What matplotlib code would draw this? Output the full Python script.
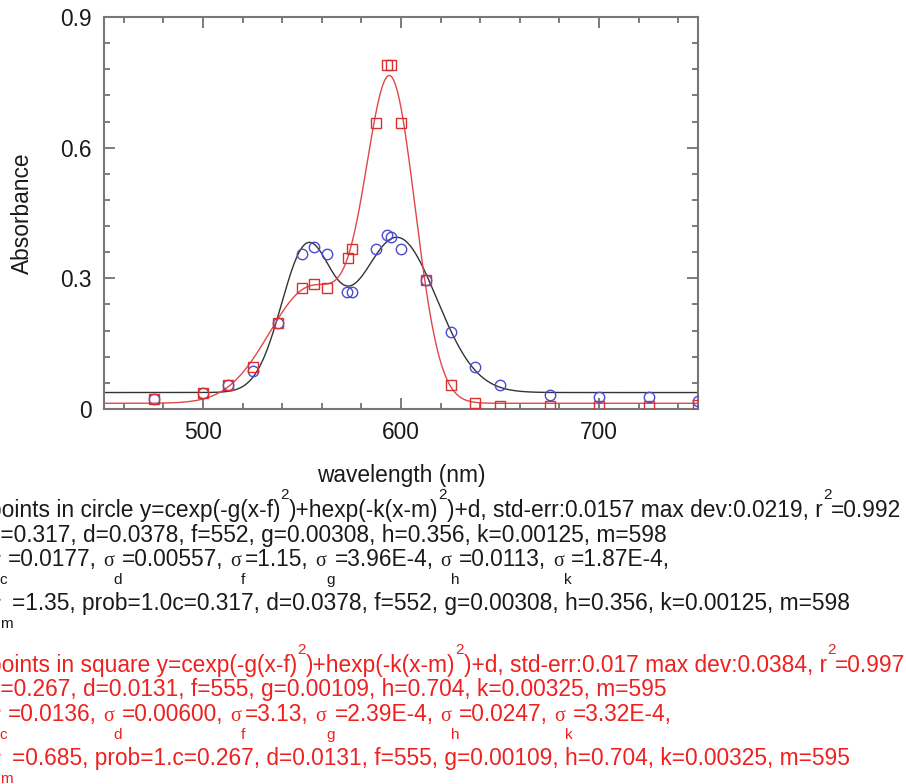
import numpy as np
import matplotlib.pyplot as plt
from matplotlib.ticker import MultipleLocator

# data points
circ_x = [475, 500, 512.5, 525, 538, 550, 556, 562.5, 572.5, 575, 587.5, 593, 595, 600, 612.5, 625, 637.5, 650, 675, 700, 725, 750]
circ_y = [0.023, 0.036, 0.056, 0.087, 0.197, 0.356, 0.371, 0.356, 0.268, 0.268, 0.368, 0.400, 0.396, 0.368, 0.296, 0.176, 0.096, 0.056, 0.033, 0.028, 0.028, 0.019]
sq_x = [475, 500, 512.5, 525, 538, 550, 556, 562.5, 573, 575, 587.5, 593, 595, 600, 612.5, 625, 637.5, 650, 675, 700, 725, 750]
sq_y = [0.023, 0.036, 0.056, 0.096, 0.197, 0.277, 0.286, 0.277, 0.347, 0.368, 0.657, 0.789, 0.789, 0.657, 0.296, 0.056, 0.014, 0.008, 0.008, 0.006, 0.006, 0.010]

# fit parameters printed under the chart: c, d, f, g, h, k, m
circ_fit = [0.317, 0.0378, 552, 0.00308, 0.356, 0.00125, 598]
sq_fit = [0.267, 0.0131, 555, 0.00109, 0.704, 0.00325, 595]

x_ticks = [500, 600, 700]
y_ticks = [0, 0.3, 0.6, 0.9]
y_ticklabels = ['0', '0.3', '0.6', '0.9']


def model(x, p):
    c, d, f, g, h, k, m = p
    return c*np.exp(-g*(x-f)**2) + h*np.exp(-k*(x-m)**2) + d


W, H = 906, 784
plt.rcParams['font.family'] = ['Liberation Sans', 'DejaVu Sans']
fig = plt.figure(figsize=(W/100, H/100), dpi=100)
renderer = fig.canvas.get_renderer()

ax = fig.add_axes([104/W, 1-409/H, 594/W, 392/H])
xx = np.linspace(450, 750, 800)
ax.plot(xx, model(xx, circ_fit), color='#333333', lw=1.0, zorder=2)
ax.plot(xx, model(xx, sq_fit), color='#e04848', lw=1.0, zorder=2)
ax.plot(circ_x, circ_y, 'o', ms=7.5, mfc='none', mec='#4b4bd0', mew=1.0, zorder=3)
ax.plot(sq_x, sq_y, 's', ms=7, mfc='none', mec='#d83030', mew=1.0, zorder=3)

ax.set_xlim(450, 750)
ax.set_ylim(0, 0.9)
ax.set_xticks(x_ticks)
ax.set_yticks(y_ticks)
ax.set_yticklabels(y_ticklabels)
ax.xaxis.set_minor_locator(MultipleLocator(20))
ax.yaxis.set_minor_locator(MultipleLocator(0.06))
ax.tick_params(which='both', direction='in', top=True, right=True, color='#666666', width=1.2, labelsize=16.4, labelcolor='#1a1a1a')
ax.tick_params(which='major', length=8, pad=9)
ax.tick_params(which='minor', length=4.5)
for sp in ax.spines.values():
    sp.set_color('#777777')
    sp.set_linewidth(1.5)
ax.set_xlabel('wavelength (nm)', fontsize=16.4, labelpad=14, color='#1a1a1a')
ax.set_ylabel('Absorbance', fontsize=16.4, labelpad=19, color='#1a1a1a')

# fit report lines, laid out run by run
size_n, size_s, size_sig = 16.4, 11, 14.5
space_w = None


def draw_line(x, base, runs, color):
    for kind, s in runs:
        if kind == 'gap':
            x += space_w
            continue
        if kind == 'n':
            t = fig.text(x/W, 1-base/H, s, fontsize=size_n, color=color, va='baseline')
        elif kind == 'sig':
            t = fig.text(x/W, 1-base/H, s, fontsize=size_sig, color=color, va='baseline', family='Liberation Serif')
        elif kind == 'sup':
            t = fig.text(x/W, 1-(base-18)/H, s, fontsize=size_s, color=color, va='baseline')
        else:
            t = fig.text(x/W, 1-(base+18)/H, s, fontsize=size_s, color=color, va='baseline')
        x += t.get_window_extent(renderer).width


a = fig.text(0, 0, 'x x', fontsize=size_n)
b = fig.text(0, 0, 'xx', fontsize=size_n)
space_w = a.get_window_extent(renderer).width - b.get_window_extent(renderer).width
a.remove()
b.remove()


def head(shape, err, dev, r2):
    return [('n', 'points in ' + shape + ' y=cexp(-g(x-f)'), ('sup', '2'), ('n', ')+hexp(-k(x-m)'), ('sup', '2'),
            ('n', ')+d, std-err:' + err + ' max dev:' + dev + ', r'), ('sup', '2'), ('n', '=' + r2)]


def sigmas(names, vals):
    runs = []
    for i, (nm, v) in enumerate(zip(names, vals)):
        if i:
            runs.append(('gap', ' '))
        runs += [('sig', 'σ'), ('sub', nm), ('n', '=' + v + ',')]
    return runs


blk = '#1a1a1a'
red = '#ee2020'
x0 = -11
p1 = 'c=0.317, d=0.0378, f=552, g=0.00308, h=0.356, k=0.00125, m=598'
draw_line(x0, 517, head('circle', '0.0157', '0.0219', '0.992'), blk)
draw_line(x0, 542, [('n', p1)], blk)
draw_line(x0, 566, sigmas('cdfghk', ['0.0177', '0.00557', '1.15', '3.96E-4', '0.0113', '1.87E-4']), blk)
draw_line(x0, 610, [('sig', 'σ'), ('sub', 'm'), ('n', '=1.35, prob=1.0' + p1)], blk)

p2 = 'c=0.267, d=0.0131, f=555, g=0.00109, h=0.704, k=0.00325, m=595'
draw_line(x0, 672, head('square', '0.017', '0.0384', '0.997'), red)
draw_line(x0, 696, [('n', p2)], red)
draw_line(x0, 721, sigmas('cdfghk', ['0.0136', '0.00600', '3.13', '2.39E-4', '0.0247', '3.32E-4']), red)
draw_line(x0, 765, [('sig', 'σ'), ('sub', 'm'), ('n', '=0.685, prob=1.' + p2)], red)

fig.savefig('out.png', dpi=100)
